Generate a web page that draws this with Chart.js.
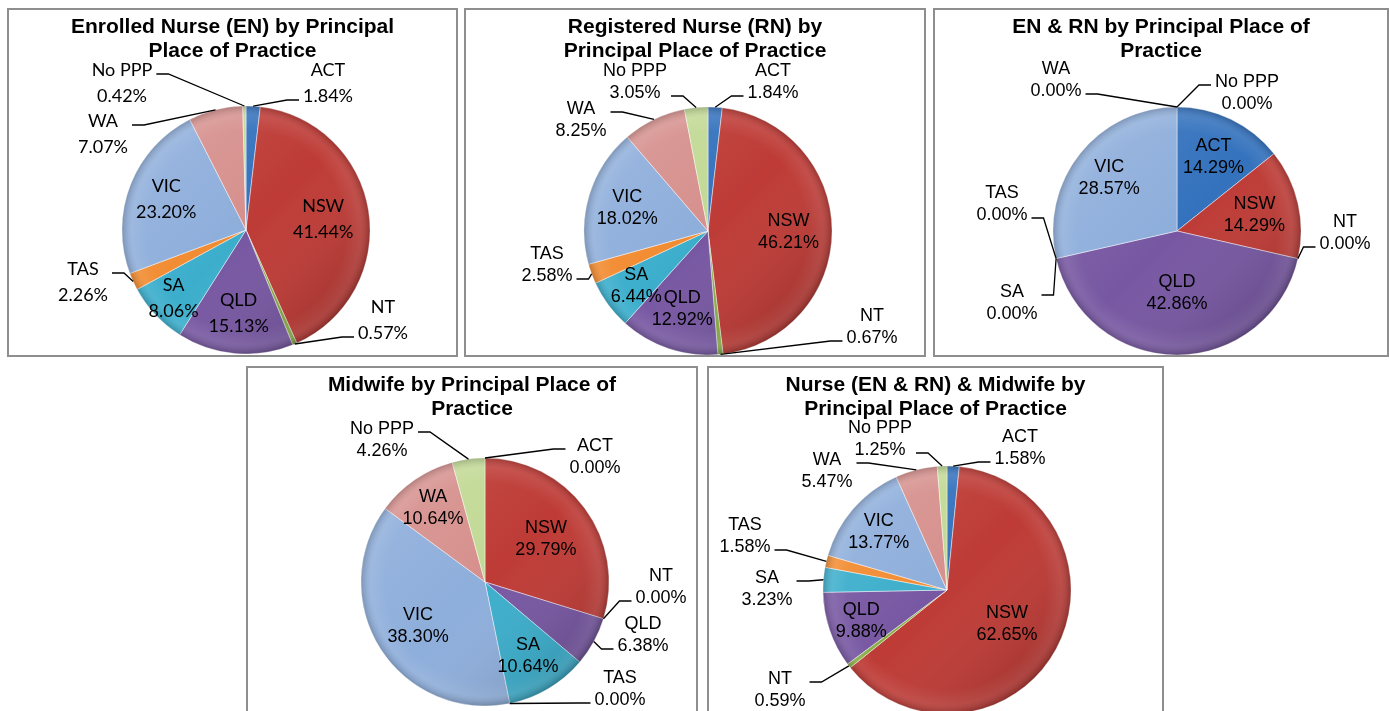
<!DOCTYPE html>
<html>
<head>
<meta charset="utf-8">
<script src="https://cdn.jsdelivr.net/npm/chart.js@4.4.1/dist/chart.umd.min.js"></script>
<style>
  html, body { margin: 0; padding: 0; background: #fff; }
  body { width: 1389px; height: 711px; overflow: hidden; position: relative; }
  .box { position: absolute; border: 2px solid #8e8e8e; box-sizing: border-box; background: #fff; }
  .box canvas { position: absolute; left: 0; top: 0; }
  .title { position: absolute; left: 0; width: 100%; top: 4px; text-align: center;
           font: bold 21px "Liberation Sans", Arial, sans-serif; line-height: 24px; color: #000; z-index: 2; }
</style>
</head>
<body>
<script>
// data (percent of each group by principal place of practice)
const regions = ['ACT', 'NSW', 'NT', 'QLD', 'SA', 'TAS', 'VIC', 'WA', 'No PPP'];
const enShare = [1.84, 41.44, 0.57, 15.13, 8.06, 2.26, 23.20, 7.07, 0.42];
const rnShare = [1.84, 46.21, 0.67, 12.92, 6.44, 2.58, 18.02, 8.25, 3.05];
const enRnShare = [14.29, 14.29, 0.00, 42.86, 0.00, 0.00, 28.57, 0.00, 0.00];
const midwifeShare = [0.00, 29.79, 0.00, 6.38, 10.64, 0.00, 38.30, 10.64, 4.26];
const nurseMidwifeShare = [1.58, 62.65, 0.59, 9.88, 3.23, 1.58, 13.77, 5.47, 1.25];
const titles = [
  ['Enrolled Nurse (EN) by Principal', 'Place of Practice'],
  ['Registered Nurse (RN) by', 'Principal Place of Practice'],
  ['EN & RN by Principal Place of', 'Practice'],
  ['Midwife by Principal Place of', 'Practice'],
  ['Nurse (EN & RN) & Midwife by', 'Principal Place of Practice']
];

const sliceColors = ['#3472bd', '#be3b36', '#8aae47', '#7757a2', '#3caecc', '#f28b30', '#8eaedb', '#d6908d', '#c2d995'];

// label placement: f = inside at fraction of radius, otherwise offset from pie centre + leader line
const inn = f => ({f: f});
const out = (dx, dy, side, line) => ({dx: dx, dy: dy, side: side, line: line});

const panels = [
  {data: enShare, box: {x: 7, y: 8, w: 451, h: 349}, c: [246, 230], font: 'Lato', gap: 26,
   place: [out(82, -147, 'l', 1), inn(.63), out(137, 90, 'l', 1), inn(.67), inn(.80),
           out(-163, 52, 'r', 0), inn(.69), out(-143, -96, 'r', 0), out(-124, -147, 'r', 0)]},
  {data: rnShare, box: {x: 464, y: 8, w: 462, h: 349}, c: [708, 231], font: 'Liberation Sans', gap: 22,
   place: [out(65, -150, 'l', 1), inn(.65), out(164, 95, 'l', 1), inn(.65), inn(.72),
           out(-161, 33, 'r', 1), inn(.68), out(-127, -112, 'r', 0), out(-73, -150, 'r', 1)]},
  {data: enRnShare, box: {x: 933, y: 8, w: 456, h: 349}, c: [1177, 231], font: 'Liberation Sans', gap: 22,
   place: [inn(.68), inn(.64), out(168, 1, 'l', 1), inn(.49), out(-165, 71, 'r', 0),
           out(-175, -28, 'r', 1), inn(.70), out(-121, -152, 'r', 1), out(70, -139, 'l', 0)]},
  {data: midwifeShare, box: {x: 246, y: 366, w: 452, h: 360}, c: [485, 582], font: 'Liberation Sans', gap: 22,
   place: [out(110, -126, 'l', 0), inn(.61), out(176, 4, 'l', 1), out(158, 52, 'l', 1), inn(.68),
           out(135, 106, 'l', 1), inn(.64), inn(.74), out(-103, -143, 'r', 0)]},
  {data: nurseMidwifeShare, box: {x: 707, y: 366, w: 457, h: 360}, c: [947, 590], font: 'Liberation Sans', gap: 22,
   place: [out(73, -143, 'l', 1), inn(.55), out(-167, 99, 'r', 0), inn(.73), out(-180, -2, 'r', 0),
           out(-202, -55, 'r', 1), inn(.73), out(-120, -120, 'r', 0), out(-67, -152, 'r', 1)]}
];
const R = 124;
const BORDER = 2;

// bevel-like shading over the pie, then the data labels with leader lines
const pieLabels = {
  id: 'pieLabels',
  afterDatasetsDraw(chart, args, opts) {
    const ctx = chart.ctx;
    const meta = chart.getDatasetMeta(0);
    const values = chart.data.datasets[0].data;
    const first = meta.data[0];
    const cx = first.x, cy = first.y, r = first.outerRadius;

    ctx.save();
    ctx.beginPath();
    ctx.arc(cx, cy, r, 0, Math.PI * 2);
    ctx.clip();
    let g = ctx.createLinearGradient(cx - r * 0.7, cy - r * 0.7, cx + r * 0.7, cy + r * 0.7);
    g.addColorStop(0, 'rgba(255,255,255,0.09)');
    g.addColorStop(0.5, 'rgba(255,255,255,0)');
    g.addColorStop(1, 'rgba(0,0,0,0.14)');
    ctx.fillStyle = g;
    ctx.fillRect(cx - r, cy - r, 2 * r, 2 * r);
    g = ctx.createRadialGradient(cx, cy, 0, cx, cy, r);
    g.addColorStop(0, 'rgba(255,255,255,0)');
    g.addColorStop(0.8, 'rgba(255,255,255,0)');
    g.addColorStop(0.92, 'rgba(255,255,255,0.08)');
    g.addColorStop(1, 'rgba(0,0,0,0.18)');
    ctx.fillStyle = g;
    ctx.fillRect(cx - r, cy - r, 2 * r, 2 * r);
    ctx.restore();

    const size = 18;
    ctx.save();
    ctx.font = size + 'px "' + opts.family + '", sans-serif';
    ctx.fillStyle = '#000';
    ctx.strokeStyle = '#000';
    ctx.lineWidth = 1.3;
    ctx.textAlign = 'center';
    ctx.textBaseline = 'alphabetic';
    meta.data.forEach((arc, i) => {
      const p = opts.place[i];
      const {x, y, startAngle, endAngle, outerRadius} = arc.getProps(['x', 'y', 'startAngle', 'endAngle', 'outerRadius'], true);
      const mid = (startAngle + endAngle) / 2;
      const lines = [chart.data.labels[i], values[i].toFixed(2) + '%'];
      let lx, ly;
      if (p.f !== undefined) {
        lx = x + Math.cos(mid) * outerRadius * p.f;
        ly = y + Math.sin(mid) * outerRadius * p.f;
      } else {
        lx = x + p.dx;
        ly = y + p.dy;
      }
      const top = ly - opts.gap / 2;
      lines.forEach((t, k) => ctx.fillText(t, lx, top + k * opts.gap + size * 0.36));
      if (p.side) {
        const w = Math.max(...lines.map(t => ctx.measureText(t).width));
        const ax = p.side === 'r' ? lx + w / 2 + 4 : lx - w / 2 - 4;
        const ay = top + p.line * opts.gap + 4;
        const hx = p.side === 'r' ? ax + 12 : ax - 12;
        const tx = x + Math.cos(mid) * outerRadius, ty = y + Math.sin(mid) * outerRadius;
        ctx.beginPath();
        ctx.moveTo(ax, ay);
        ctx.lineTo(hx, ay);
        ctx.lineTo(tx, ty);
        ctx.stroke();
      }
    });
    ctx.restore();
  }
};

panels.forEach((pn, idx) => {
  const box = document.createElement('div');
  box.className = 'box';
  box.style.left = pn.box.x + 'px';
  box.style.top = pn.box.y + 'px';
  box.style.width = pn.box.w + 'px';
  box.style.height = pn.box.h + 'px';
  const t = document.createElement('div');
  t.className = 'title';
  t.innerHTML = titles[idx].map(s => s.replace(/&/g, '&amp;')).join('<br>');
  box.appendChild(t);
  const cv = document.createElement('canvas');
  const W = pn.box.w - 2 * BORDER, H = pn.box.h - 2 * BORDER;
  cv.width = W; cv.height = H;
  cv.style.width = W + 'px'; cv.style.height = H + 'px';
  box.appendChild(cv);
  document.body.appendChild(box);

  const lcx = pn.c[0] - pn.box.x - BORDER, lcy = pn.c[1] - pn.box.y - BORDER;

  new Chart(cv.getContext('2d'), {
    type: 'pie',
    data: {
      labels: regions,
      datasets: [{
        data: pn.data,
        backgroundColor: sliceColors,
        borderColor: 'rgba(255,255,255,0.45)',
        borderWidth: c => (pn.data[c.dataIndex] > 0 ? 1 : 0)
      }]
    },
    options: {
      responsive: false,
      animation: false,
      radius: R,
      layout: {padding: {left: lcx - R, right: W - lcx - R, top: lcy - R, bottom: H - lcy - R}},
      plugins: {
        legend: {display: false},
        tooltip: {enabled: false},
        title: {display: false},
        pieLabels: {family: pn.font, gap: pn.gap, place: pn.place}
      }
    },
    plugins: [pieLabels]
  });
});
</script>
</body>
</html>
